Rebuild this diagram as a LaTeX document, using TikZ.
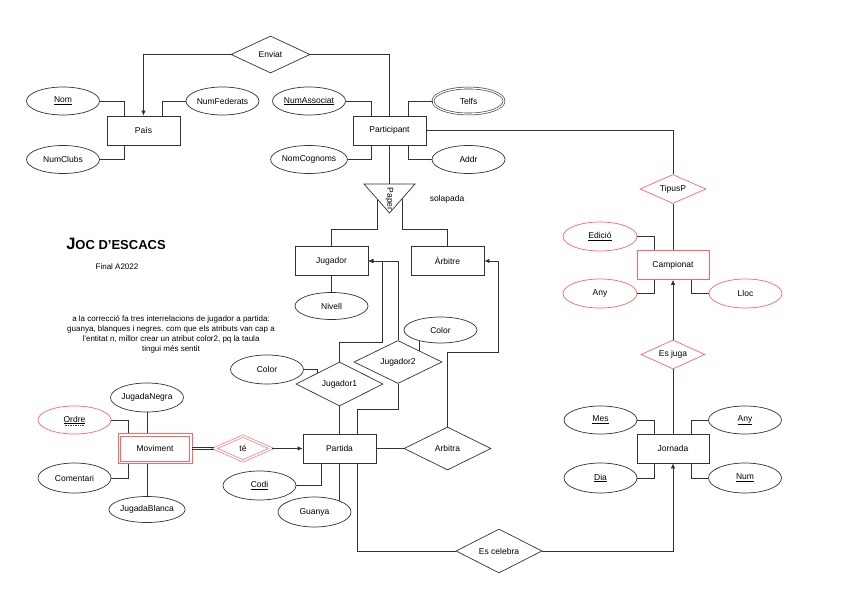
\documentclass[tikz,border=0pt]{standalone}
\usepackage{fontspec}
\setmainfont{Liberation Sans}
\usetikzlibrary{shapes.geometric,arrows.meta}
\definecolor{redc}{HTML}{FF6666}
\definecolor{linec}{HTML}{333333}
\begin{document}
\begin{tikzpicture}[x=1pt,y=-1pt,
  every node/.style={font=\fontsize{8.5}{10}\selectfont, inner sep=0pt, text=black},
  ent/.style={draw=linec, rectangle, minimum width=73pt, minimum height=29pt, line width=0.7pt},
  att/.style={draw=linec, ellipse, minimum width=73pt, minimum height=28pt, line width=0.7pt},
  rel/.style={draw=linec, diamond, aspect=2.5, line width=0.7pt},
  conn/.style={draw=linec, line width=0.7pt},
  arr/.style={conn, -{Latex[length=5pt,width=4.5pt]}}
]
\fill[white] (0,0) rectangle (848,601);
\useasboundingbox (0,0) rectangle (848,601);

% ---------- top ----------
\node[rel, minimum width=79pt, minimum height=37pt] (enviat) at (270.5,54.5) {Enviat};
\node[ent] (pais) at (143.5,130.5) {País};
\node[att] (nom) at (63,101) {\underline{Nom}};
\node[att] (numfed) at (222.5,101) {NumFederats};
\node[att] (numclubs) at (63,159.5) {NumClubs};
\node[ent] (part) at (389.5,130.5) {Participant};
\node[att] (numassoc) at (309,101) {\underline{NumAssociat}};
\node[att, double=white, double distance=1.3pt, line width=0.6pt, minimum width=71pt, minimum height=26pt] (telfs) at (468.5,101) {Telfs};
\node[att] (nomcog) at (309,159.5) {NomCognoms};
\node[att] (addr) at (468.5,159.5) {Addr};

\draw[arr] (enviat.west) -| (pais.north);
\draw[conn] (enviat.east) -| (part.north);
\draw[conn] (nom.east) -| ([xshift=18pt]pais.north west);
\draw[conn] (numfed.west) -| ([xshift=-18pt]pais.north east);
\draw[conn] (numclubs.east) -| ([xshift=18pt]pais.south west);
\draw[conn] (numassoc.east) -| ([xshift=19pt]part.north west);
\draw[conn] (telfs.west) -| ([xshift=-18pt]part.north east);
\draw[conn] (nomcog.east) -| ([xshift=19pt]part.south west);
\draw[conn] (addr.west) -| ([xshift=-18pt]part.south east);

% ---------- specialisation ----------
\coordinate (tt) at (389.5,184);
\coordinate (tl) at (364,184);
\coordinate (tr) at (415,184);
\coordinate (tb) at (389.5,213);
\draw[conn, line join=miter] (tl) -- (tr) -- (tb) -- cycle;
\node[rotate=-90] (paper) at (389.5,199) {Paper};
\node (solapada) at (447,199) {solapada};
\coordinate (trl) at (377,198.8);
\coordinate (trr) at (402,198.8);

\node[ent] (jug) at (331.5,261) {Jugador};
\node[ent] (arb) at (447.5,261) {Àrbitre};
\node[att, minimum height=27pt] (nivell) at (331.5,306) {Nivell};

\draw[conn] (part.south) -- (tt);
\draw[conn] (trl) -- ++(0,31) -| (jug.north);
\draw[conn] (trr) -- ++(0,31) -| (arb.north);
\draw[conn] (jug.south) -- (nivell.north);

% ---------- title and note ----------
\node (title) at (116,244) {\bfseries\fontsize{16.5}{16}\selectfont J\fontsize{13}{13}\selectfont OC D'ESCACS};
\node (final) at (117,266.5) {\fontsize{8}{10}\selectfont Final A2022};
\node[align=center, font=\fontsize{8}{10}\selectfont] (nota) at (171,334) {a la correcció fa tres interrelacions de jugador a partida:\\guanya, blanques i negres. com que els atributs van cap a\\l'entitat n, millor crear un atribut color2, pq la taula\\tingui més sentit};

% ---------- Jugador1 / Jugador2 ----------
\node[rel, minimum width=88pt, minimum height=43pt] (jug2) at (398,362) {Jugador2};
\node[att, minimum height=26pt] (color2) at (440.5,330) {Color};
\node[rel, minimum width=87pt, minimum height=44pt] (jug1) at (339.5,384) {Jugador1};
\node[att, minimum height=29pt] (color1) at (267,369.5) {Color};

\node[ent] (partida) at (339.5,448.5) {Partida};
\node[rel, minimum width=87pt, minimum height=43pt] (arbitra) at (447.5,448.5) {Arbitra};
\node[att, minimum height=29pt] (codi) at (259.5,485.5) {\underline{Codi}};
\node[att, minimum height=30pt] (guanya) at (314.5,512) {Guanya};
\node[rel, minimum width=86pt, minimum height=44pt] (escel) at (499,551) {Es celebra};

\coordinate (j1b) at (382,342);
\coordinate (j2b) at (357.5,409);
\coordinate (abb) at (498,352);

\draw[arr] (jug1.north) |- (j1b) |- (jug.east);
\draw[arr] (jug2.north) |- (jug.east);
\draw[conn] (jug1.south) -- (partida.north);
\draw[conn] (jug2.south) |- (j2b) -- (j2b |- partida.north);
\draw[conn] (color2.208) -- (color2.208 |- jug2.26.6);
\draw[conn] (color1.east) -| (jug1.154);
\draw[conn] (partida.east) -- (arbitra.west);
\draw[arr] (arbitra.north) |- (abb) |- (arb.east);
\draw[conn] (codi.east) -| ([xshift=19pt]partida.south west);
\draw[conn] (partida.south) -- (partida.south |- guanya.24);
\draw[conn] ([xshift=18pt]partida.south) |- (escel.west);

% ---------- Moviment ----------
\node[rel, draw=redc, double=white, double distance=1.6pt, line width=0.6pt, minimum width=57pt, minimum height=25pt] (te) at (243,448.5) {té};
\node[rectangle, draw=redc, line width=0.6pt, minimum width=74pt, minimum height=30pt] (movi) at (155,448.5) {Moviment};
\draw[redc, line width=0.6pt] ([xshift=3pt,yshift=-3pt]movi.north west) rectangle ([xshift=-3pt,yshift=3pt]movi.south east);
\node[att, draw=redc] (ordre) at (74.5,420) {\underline{Ordre}};
\draw[linec, line width=0.4pt, dash pattern=on 1pt off 0.7pt] ([xshift=-10pt,yshift=-5.2pt]ordre.center) -- ([xshift=10pt,yshift=-5.2pt]ordre.center);
\node[att, minimum height=29pt] (jnegra) at (147,397.5) {JugadaNegra};
\node[att, minimum height=30pt] (coment) at (74.5,478) {Comentari};
\node[att, minimum height=26pt] (jblanca) at (147,509.5) {JugadaBlanca};

\draw[arr] (te.east) -- (partida.west);
\draw[conn, line width=0.6pt] ([yshift=1.2pt]movi.east) -- ([yshift=1.2pt]te.west);
\draw[conn, line width=0.6pt] ([yshift=-1.2pt]movi.east) -- ([yshift=-1.2pt]te.west);
\draw[conn] (ordre.east) -| ([xshift=11pt]movi.north west);
\draw[conn] (coment.east) -| ([xshift=11pt]movi.south west);
\draw[conn] (jnegra.south) -- (jnegra.south |- movi.north);
\draw[conn] (jblanca.north) -- (jblanca.north |- movi.south);

% ---------- right column ----------
\node[rel, draw=redc, minimum width=66pt, minimum height=29pt] (tipusp) at (673,189) {TipusP};
\node[ent, draw=redc, minimum width=72pt] (camp) at (673,265) {Campionat};
\node[att, draw=redc, minimum width=74pt, minimum height=29pt] (edicio) at (600,236.5) {\underline{Edició}};
\node[att, draw=redc, minimum width=74pt, minimum height=29pt] (any1) at (600,293.5) {Any};
\node[att, draw=redc, minimum height=29pt] (lloc) at (745.5,293.5) {Lloc};
\node[rel, draw=redc, minimum width=64pt, minimum height=29pt] (esjuga) at (673,354.5) {Es juga};
\node[ent, minimum width=72pt] (jornada) at (673,448.5) {Jornada};
\node[att] (mes) at (600.5,420) {\underline{Mes}};
\node[att, minimum height=30pt] (dia) at (600.5,478) {\underline{Dia}};
\node[att] (any2) at (745,420) {\underline{Any}};
\node[att, minimum height=30pt] (num) at (745,478) {\underline{Num}};

\draw[conn] (part.east) -| (tipusp.north);
\draw[conn] (tipusp.south) -- (camp.north);
\draw[conn] (edicio.east) -| ([xshift=18pt]camp.north west);
\draw[conn] (any1.east) -| ([xshift=18pt]camp.south west);
\draw[conn] (lloc.west) -| ([xshift=-18pt]camp.south east);
\draw[arr] (esjuga.north) -- (camp.south);
\draw[conn] (esjuga.south) -- (jornada.north);
\draw[conn] (mes.east) -| ([xshift=18pt]jornada.north west);
\draw[conn] (dia.east) -| ([xshift=18pt]jornada.south west);
\draw[conn] (any2.west) -| ([xshift=-18pt]jornada.north east);
\draw[conn] (num.west) -| ([xshift=-18pt]jornada.south east);
\draw[arr] (escel.east) -| (jornada.south);
\end{tikzpicture}
\end{document}
